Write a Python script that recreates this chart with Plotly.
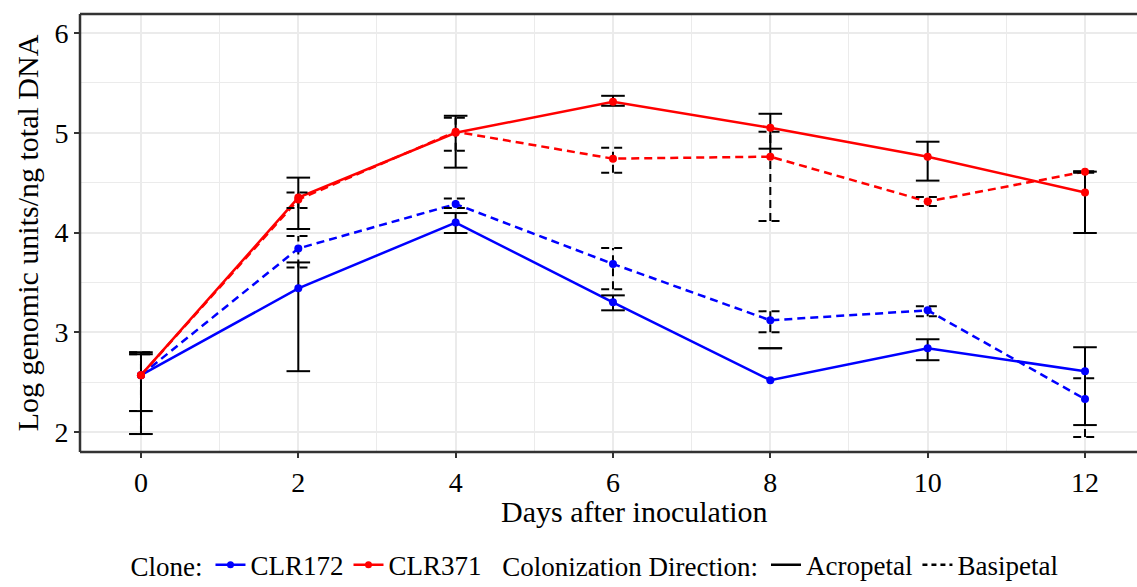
import plotly.graph_objects as go

days = [0, 2, 4, 6, 8, 10, 12]

# mean values
blue_acro = [2.57, 3.44, 4.10, 3.30, 2.52, 2.84, 2.61]
blue_basi = [2.57, 3.84, 4.285, 3.685, 3.12, 3.22, 2.33]
red_acro = [2.57, 4.35, 5.00, 5.31, 5.05, 4.76, 4.40]
red_basi = [2.57, 4.33, 5.01, 4.74, 4.76, 4.31, 4.61]

# error bar lower / upper bounds
blue_acro_lo = [2.21, 2.61, 3.995, 3.22, 2.84, 2.72, 2.07]
blue_acro_hi = [2.78, 3.70, 4.195, 3.37, 2.84, 2.93, 2.85]
blue_basi_lo = [2.21, 3.65, 4.245, 3.43, 3.00, 3.16, 1.95]
blue_basi_hi = [2.78, 3.965, 4.34, 3.845, 3.21, 3.26, 2.54]
red_acro_lo = [1.98, 4.035, 4.65, 5.27, 4.84, 4.52, 3.995]
red_acro_hi = [2.80, 4.55, 5.17, 5.37, 5.19, 4.91, 4.61]
red_basi_lo = [1.98, 4.245, 4.82, 4.60, 4.115, 4.265, 4.60]
red_basi_hi = [2.80, 4.40, 5.15, 4.85, 5.01, 4.355, 4.615]

BLUE = "#0000FF"
RED = "#FF0000"
FONT = "Liberation Serif"
CAP = 0.15
DASH = "8px,5px"

series = [
    ("CLR172", BLUE, "solid", blue_acro, blue_acro_lo, blue_acro_hi),
    ("CLR172", BLUE, DASH, blue_basi, blue_basi_lo, blue_basi_hi),
    ("CLR371", RED, "solid", red_acro, red_acro_lo, red_acro_hi),
    ("CLR371", RED, DASH, red_basi, red_basi_lo, red_basi_hi),
]

fig = go.Figure()

for name, col, dash, ys, lo, hi in series:
    fig.add_trace(go.Scatter(x=days, y=ys, mode="lines", line=dict(color=col, width=2.5, dash=dash),
                             showlegend=False, hoverinfo="skip"))

for name, col, dash, ys, lo, hi in series:
    ex, ey = [], []
    for d, l, h in zip(days, lo, hi):
        ex += [d, d, None, d - CAP, d + CAP, None, d - CAP, d + CAP, None]
        ey += [l, h, None, l, l, None, h, h, None]
    fig.add_trace(go.Scatter(x=ex, y=ey, mode="lines", line=dict(color="black", width=2, dash=dash),
                             showlegend=False, hoverinfo="skip"))

for name, col, dash, ys, lo, hi in series:
    fig.add_trace(go.Scatter(x=days, y=ys, mode="markers", marker=dict(color=col, size=8),
                             showlegend=False))

# legend entries
fig.add_trace(go.Scatter(x=[None], y=[None], mode="lines+markers", name="CLR172",
                         line=dict(color=BLUE, width=2.5), marker=dict(color=BLUE, size=7), legend="legend"))
fig.add_trace(go.Scatter(x=[None], y=[None], mode="lines+markers", name="CLR371",
                         line=dict(color=RED, width=2.5), marker=dict(color=RED, size=7), legend="legend"))
fig.add_trace(go.Scatter(x=[None], y=[None], mode="lines", name="Acropetal",
                         line=dict(color="black", width=2.5), legend="legend2"))
fig.add_trace(go.Scatter(x=[None], y=[None], mode="lines", name="Basipetal",
                         line=dict(color="black", width=2.5, dash="5px,4px"), legend="legend2"))

grid = "#EBEBEB"
fig.update_layout(
    width=1137, height=587,
    margin=dict(l=80, r=0, t=14, b=135),
    paper_bgcolor="white", plot_bgcolor="white",
    font=dict(family=FONT, size=27, color="black"),
    xaxis=dict(range=[-0.775, 12.661], tickvals=days, ticktext=[str(d) for d in days],
               showgrid=True, gridcolor=grid, gridwidth=2, zeroline=False,
               minor=dict(dtick=1, tick0=1, showgrid=True, gridcolor=grid, gridwidth=1),
               ticks="outside", ticklen=5, tickcolor="#333333", tickwidth=1.5,
               tickfont=dict(family=FONT, size=28, color="black")),
    yaxis=dict(range=[1.8, 6.19], tickvals=[2, 3, 4, 5, 6],
               showgrid=True, gridcolor=grid, gridwidth=2, zeroline=False,
               minor=dict(dtick=0.5, tick0=2.5, showgrid=True, gridcolor=grid, gridwidth=1),
               ticks="outside", ticklen=5, tickcolor="#333333", tickwidth=1.5,
               tickfont=dict(family=FONT, size=28, color="black"),
               title=dict(text="Log genomic units/ng total DNA", font=dict(family=FONT, size=30), standoff=6)),
    legend=dict(orientation="h", xref="container", yref="container", x=0.113, y=0.037,
                xanchor="left", yanchor="middle", title=dict(text="Clone:", font=dict(family=FONT, size=27)),
                font=dict(family=FONT, size=27), itemwidth=30, bgcolor="rgba(0,0,0,0)", tracegroupgap=0),
    legend2=dict(orientation="h", xref="container", yref="container", x=0.44, y=0.037,
                 xanchor="left", yanchor="middle",
                 title=dict(text="Colonization Direction:", font=dict(family=FONT, size=27)),
                 font=dict(family=FONT, size=27), itemwidth=30, bgcolor="rgba(0,0,0,0)"),
    annotations=[dict(text="Days after inoculation", xref="paper", yref="paper",
                      x=(634 - 80) / 1057, y=(452 - 511) / 438, xanchor="center", yanchor="middle",
                      showarrow=False, font=dict(family=FONT, size=30))],
    shapes=[
        dict(type="line", xref="paper", yref="paper", x0=0, x1=0, y0=0, y1=1, line=dict(color="#333333", width=2.5)),
        dict(type="line", xref="paper", yref="paper", x0=0, x1=1, y0=1, y1=1, line=dict(color="#333333", width=2.5)),
        dict(type="line", xref="paper", yref="paper", x0=0, x1=1, y0=0, y1=0, line=dict(color="#333333", width=2.5)),
    ],
)

fig.write_html("out.html")
